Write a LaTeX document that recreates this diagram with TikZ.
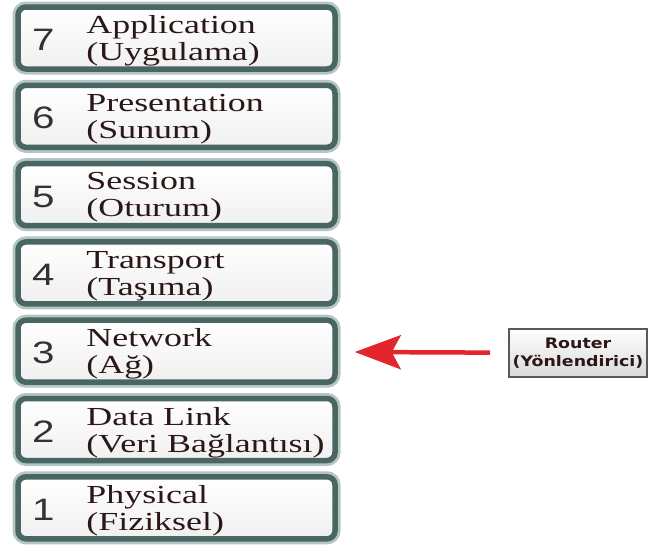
\documentclass[tikz,border=0pt]{standalone}
\usepackage{fontspec}
\setmainfont[FakeStretch=1.38]{Liberation Serif}
\newfontfamily\numfont[FakeStretch=1.3]{Liberation Sans}
\newfontfamily\routerfont[FakeStretch=1.2]{DejaVu Sans}
\usepackage{tikz}
\usetikzlibrary{shapes,arrows,arrows.meta,calc}
\definecolor{layerrim}{HTML}{4A6662}
\definecolor{layerglow}{HTML}{B4C6C2}
\definecolor{layertext}{HTML}{2B1717}
\definecolor{arrowred}{HTML}{E3262B}
\tikzstyle{layerbox} = [draw=layerrim, line width=5.5pt, rectangle, rounded corners=8pt,
    minimum width=317pt, minimum height=62pt, top color=white, bottom color=gray!12,
    preaction={draw=layerglow, line width=11pt}]
\tikzstyle{layernum} = [font=\numfont\fontsize{31}{31}\selectfont, text=black!80, inner sep=0pt]
\tikzstyle{layertxt} = [font=\fontsize{26}{27}\selectfont, text=layertext, align=left, inner sep=0pt, anchor=west]
\tikzstyle{device} = [draw=black!65, line width=2pt, rectangle, minimum width=138pt, minimum height=48pt,
    top color=white, bottom color=gray!30, text=layertext, align=center,
    font=\routerfont\bfseries\fontsize{14.5}{17.5}\selectfont, inner sep=0pt]
\tikzstyle{pointer} = [draw=arrowred, line width=4.5pt, -{Stealth[length=46pt,width=34pt,inset=9pt]}]

\begin{document}
\begin{tikzpicture}[x=1pt, y=-1pt, node distance=78.3pt]
        \useasboundingbox (0,0) rectangle (649,550);
        % the seven layers
        \node[layerbox] at (176.5,38) (l7) {};
        \node[layerbox, below of=l7] (l6) {};
        \node[layerbox, below of=l6] (l5) {};
        \node[layerbox, below of=l5] (l4) {};
        \node[layerbox, below of=l4] (l3) {};
        \node[layerbox, below of=l3] (l2) {};
        \node[layerbox, below of=l2] (l1) {};
        \foreach \n/\top/\sub in {7/Application/(Uygulama), 6/Presentation/(Sunum),
                5/Session/(Oturum), 4/Transport/(Taşıma), 3/Network/(Ağ),
                2/Data Link/(Veri Bağlantısı), 1/Physical/(Fiziksel)} {
            \node[layernum] at ($(l\n.west)+(28pt,-2pt)$) (n\n) {\n};
            \node[layertxt] at ($(l\n.west)+(71pt,-3pt)$) (t\n) {\top\\\sub};
        }
        % router pointing at the network layer
        \node[device] at (578,353) (router) {Router\\(Yönlendirici)};
        \path[pointer, shorten <=18pt, shorten >=17pt] (router) -- (l3);
    \end{tikzpicture}
\end{document}
